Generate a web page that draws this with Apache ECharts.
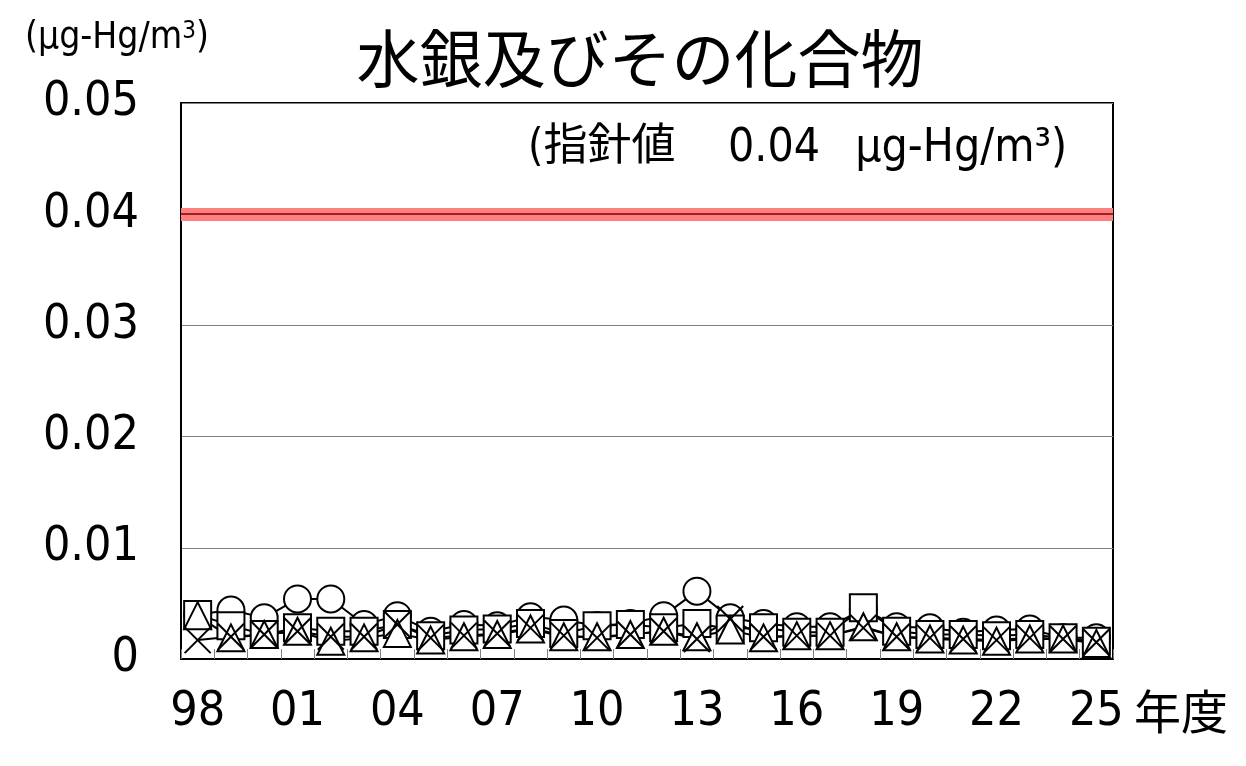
<!DOCTYPE html>
<html>
<head>
<meta charset="utf-8">
<script src="https://cdn.jsdelivr.net/npm/echarts@6/dist/echarts.min.js"></script>
<style>
  html, body { margin: 0; padding: 0; background: #fff; }
  #chart { width: 1246px; height: 766px; }
</style>
</head>
<body>
<div id="chart"></div>
<script>
const years = ['98','99','00','01','02','03','04','05','06','07','08','09','10','11',
               '12','13','14','15','16','17','18','19','20','21','22','23','24','25'];

// four monitoring stations, one marker shape each
const circleVals = [0.0040,0.0044,0.0037,0.0054,0.0054,0.0031,0.0039,0.0025,0.0031,0.0030,0.0038,0.0035,0.0030,0.0032,
                    0.0039,0.0061,0.0037,0.0032,0.0029,0.0029,0.0045,0.0029,0.0028,0.0024,0.0026,0.0027,0.0019,0.0019];
const squareVals = [0.0040,0.0030,0.0022,0.0028,0.0025,0.0025,0.0031,0.0021,0.0026,0.0027,0.0032,0.0023,0.0030,0.0031,
                    0.0028,0.0032,0.0027,0.0028,0.0024,0.0024,0.0046,0.0025,0.0022,0.0022,0.0021,0.0022,0.0019,0.0016];
const triangleVals = [0.0039,0.0019,0.0022,0.0025,0.0016,0.0019,0.0023,0.0017,0.0020,0.0022,0.0027,0.0020,0.0020,0.0022,
                      0.0025,0.0020,0.0026,0.0019,0.0021,0.0021,0.0029,0.0020,0.0018,0.0017,0.0016,0.0018,0.0018,0.0014];
const crossVals = [0.0017,0.0020,0.0022,0.0025,0.0020,0.0020,0.0031,0.0019,0.0021,0.0023,0.0028,0.0021,0.0019,0.0022,
                   0.0025,0.0018,0.0036,0.0020,0.0021,0.0021,0.0028,0.0020,0.0019,0.0018,0.0017,0.0019,0.0018,0.0015];

const guideline = 0.04;

const numFont = "'DejaVu Sans Condensed', 'Liberation Sans Narrow', 'Noto Sans CJK JP', sans-serif";
const jpFont = "'Noto Sans CJK JP', sans-serif";

const chart = echarts.init(document.getElementById('chart'));

const makeSeries = (name, data, symbol, size) => ({
    name: name,
    type: 'line',
    data: data,
    symbol: symbol,
    symbolSize: size,
    showAllSymbol: true,
    lineStyle: { color: '#000', width: 2 },
    itemStyle: { color: '#fff', borderColor: '#000', borderWidth: 2 },
    emphasis: { disabled: true },
    animation: false
});

const circleSeries = makeSeries('circle', circleVals, 'circle', 27);
circleSeries.markLine = {
    silent: true,
    symbol: ['none', 'none'],
    label: { show: false },
    data: [
        { yAxis: guideline, lineStyle: { color: '#FF8080', width: 13, type: 'solid' } },
        { yAxis: guideline, lineStyle: { color: '#800000', width: 1.5, type: 'solid' } }
    ]
};

const option = {
    backgroundColor: '#fff',
    animation: false,
    grid: {
        left: 181, right: 133, top: 103, bottom: 107,
        show: true, borderColor: '#000', borderWidth: 2, backgroundColor: 'transparent'
    },
    title: {
        text: '水銀及びその化合物',
        left: 635, top: 22, textAlign: 'center',
        textStyle: { fontFamily: jpFont, fontSize: 63, fontWeight: 'normal', color: '#000' }
    },
    xAxis: {
        type: 'category',
        data: years,
        boundaryGap: true,
        axisLine: { lineStyle: { color: '#000', width: 2 } },
        axisTick: { show: true, inside: true, length: 10, interval: 0, lineStyle: { color: '#808080', width: 1 } },
        axisLabel: { interval: 2, margin: 30, fontFamily: numFont, fontSize: 48, color: '#000' },
        splitLine: { show: false }
    },
    yAxis: {
        type: 'value',
        min: 0, max: 0.05, interval: 0.01,
        axisLine: { show: true, lineStyle: { color: '#000', width: 2 } },
        axisTick: { show: false },
        axisLabel: {
            margin: 42, fontFamily: numFont, fontSize: 48, color: '#000',
            formatter: v => (v === 0 ? '0' : v.toFixed(2))
        },
        splitLine: { lineStyle: { color: '#808080', width: 1 } }
    },
    graphic: [
        {
            type: 'text', left: 25, top: 20,
            style: {
                text: '(μg-Hg/m{sup|3})',
                fontFamily: numFont, fontSize: 37, fill: '#000',
                rich: { sup: { fontFamily: numFont, fontSize: 24, verticalAlign: 'top', padding: [0, 0, 12, 0] } }
            }
        },
        {
            type: 'text', left: 528, top: 126,
            style: {
                text: '{a|(指針値 }{b|0.04 }{c|μg-Hg/m³)}',
                fontFamily: numFont, fontSize: 44, fill: '#000',
                rich: {
                    a: { fontFamily: numFont, fontSize: 44 },
                    b: { fontFamily: numFont, fontSize: 46, padding: [0, 0, 0, 40] },
                    c: { fontFamily: numFont, fontSize: 46, padding: [0, 0, 0, 22] }
                }
            }
        },
        {
            type: 'text', left: 1134, top: 688,
            style: { text: '年度', fontFamily: jpFont, fontSize: 47, fill: '#000' }
        }
    ],
    series: [
        circleSeries,
        makeSeries('square', squareVals, 'rect', 27),
        makeSeries('triangle', triangleVals, 'triangle', 27),
        makeSeries('cross', crossVals, 'path://M0,0L10,10M10,0L0,10', 26)
    ]
};

chart.setOption(option);
</script>
</body>
</html>
